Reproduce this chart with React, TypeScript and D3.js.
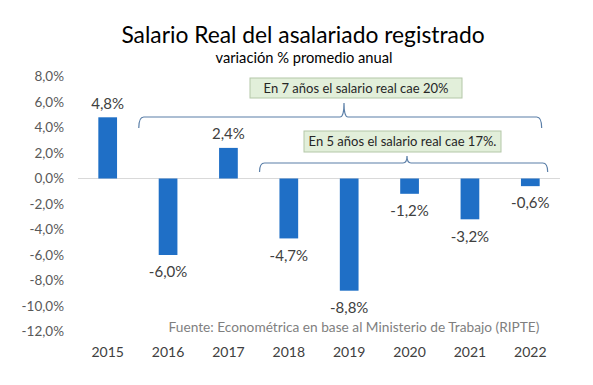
import React, {useEffect, useRef} from 'react';
import * as d3 from "d3";

const years = ["2015", "2016", "2017", "2018", "2019", "2020", "2021", "2022"];
const variation = [4.8, -6.0, 2.4, -4.7, -8.8, -1.2, -3.2, -0.6];
const yTicks = [8, 6, 4, 2, 0, -2, -4, -6, -8, -10, -12];

const title = "Salario Real del asalariado registrado";
const subtitle = "variación % promedio anual";
const source = "Fuente: Econométrica en base al Ministerio de Trabajo (RIPTE)";
const note7 = "En 7 años el salario real cae 20%";
const note5 = "En 5 años el salario real cae 17%.";

const W = 593, H = 385;
const FONT = "Lato, 'Open Sans', sans-serif";

const fmt = (v: number) => v.toFixed(1).replace(".", ",") + "%";

// llave horizontal con pico hacia arriba
const bracePath = (x0: number, x1: number, yLine: number, yEnd: number, yPeak: number, xPeak: number) => {
    const r = 5;
    return `M${x0},${yEnd} Q${x0},${yLine} ${x0 + r},${yLine} L${xPeak - 4},${yLine} Q${xPeak},${yLine} ${xPeak},${yPeak} Q${xPeak},${yLine} ${xPeak + 4},${yLine} L${x1 - r},${yLine} Q${x1},${yLine} ${x1},${yEnd}`;
};

const App = () => {
    const svgRef = useRef<SVGSVGElement>(null);

    useEffect(() => {
        const svg = d3.select(svgRef.current);
        svg.selectAll("*").remove();

        const x = d3.scaleBand().domain(years).range([77.5, 560.5]).paddingInner(0.69).paddingOuter(0.345);
        const y = d3.scaleLinear().domain([-12, 8]).range([331.5, 76.5]);

        // titulo
        svg.append("text").attr("x", 303).attr("y", 43).attr("text-anchor", "middle")
            .attr("font-size", 22.8).attr("fill", "#000").attr("font-family", FONT).text(title);
        svg.append("text").attr("x", 304).attr("y", 63).attr("text-anchor", "middle")
            .attr("font-size", 14.7).attr("fill", "#000").attr("font-family", FONT).text(subtitle);

        // eje y
        svg.append("g").selectAll("text").data(yTicks).enter().append("text")
            .attr("x", 64).attr("y", d => y(d)).attr("dy", "0.35em").attr("text-anchor", "end")
            .attr("font-size", 13.5).attr("fill", "#595959").attr("font-family", FONT)
            .text(d => fmt(d));

        // linea cero
        svg.append("line").attr("x1", 78).attr("x2", 560).attr("y1", y(0)).attr("y2", y(0))
            .attr("stroke", "#d9d9d9").attr("stroke-width", 1);

        // barras
        svg.append("g").selectAll("rect").data(variation).enter().append("rect")
            .attr("x", (d, i) => x(years[i])!)
            .attr("width", x.bandwidth())
            .attr("y", d => y(Math.max(0, d)))
            .attr("height", d => Math.abs(y(d) - y(0)))
            .attr("fill", "#1f6fc6");

        // etiquetas de valores
        svg.append("g").selectAll("text").data(variation).enter().append("text")
            .attr("x", (d, i) => x(years[i])! + x.bandwidth() / 2)
            .attr("y", d => d >= 0 ? y(d) - 14 : y(d) + 17)
            .attr("dy", "0.35em").attr("text-anchor", "middle")
            .attr("font-size", 15).attr("fill", "#404040").attr("font-family", FONT)
            .text(d => fmt(d));

        // eje x
        svg.append("g").selectAll("text").data(years).enter().append("text")
            .attr("x", d => x(d)! + x.bandwidth() / 2).attr("y", 352).attr("dy", "0.35em")
            .attr("text-anchor", "middle").attr("font-size", 14).attr("fill", "#404040")
            .attr("font-family", FONT).text(d => d);

        // fuente
        svg.append("text").attr("x", 354).attr("y", 327).attr("dy", "0.35em").attr("text-anchor", "middle")
            .attr("font-size", 13.7).attr("fill", "#7f7f7f").attr("font-family", FONT).text(source);

        // llaves
        const step = x.step();
        const b1x0 = x("2016")! - step * 0.33, b1x1 = x("2022")! + x.bandwidth() + 2;
        const b2x0 = x("2018")! - step * 0.33, b2x1 = x("2022")! + x.bandwidth() + 8;
        svg.append("path").attr("d", bracePath(b1x0, b1x1, 117, 128, 103, 344))
            .attr("fill", "none").attr("stroke", "#5b7fa8").attr("stroke-width", 1.2);
        svg.append("path").attr("d", bracePath(b2x0, b2x1, 163, 172, 156, 407))
            .attr("fill", "none").attr("stroke", "#5b7fa8").attr("stroke-width", 1.2);

        // cuadros de nota
        const boxes = [
            {text: note7, x0: 250, x1: 462, y0: 78, y1: 98},
            {text: note5, x0: 304, x1: 501, y0: 131, y1: 152},
        ];
        boxes.forEach(b => {
            svg.append("rect").attr("x", b.x0).attr("y", b.y0).attr("width", b.x1 - b.x0).attr("height", b.y1 - b.y0)
                .attr("fill", "#e2efda").attr("stroke", "#b4c7a8").attr("stroke-width", 1);
            svg.append("text").attr("x", (b.x0 + b.x1) / 2).attr("y", (b.y0 + b.y1) / 2).attr("dy", "0.35em")
                .attr("text-anchor", "middle").attr("font-size", 13).attr("fill", "#262626")
                .attr("font-family", FONT).text(b.text);
        });
    }, []);

    return <svg ref={svgRef} width={W} height={H} style={{position: "absolute", left: 0, top: 0, background: "#fff"}}/>;
};

export default App;
